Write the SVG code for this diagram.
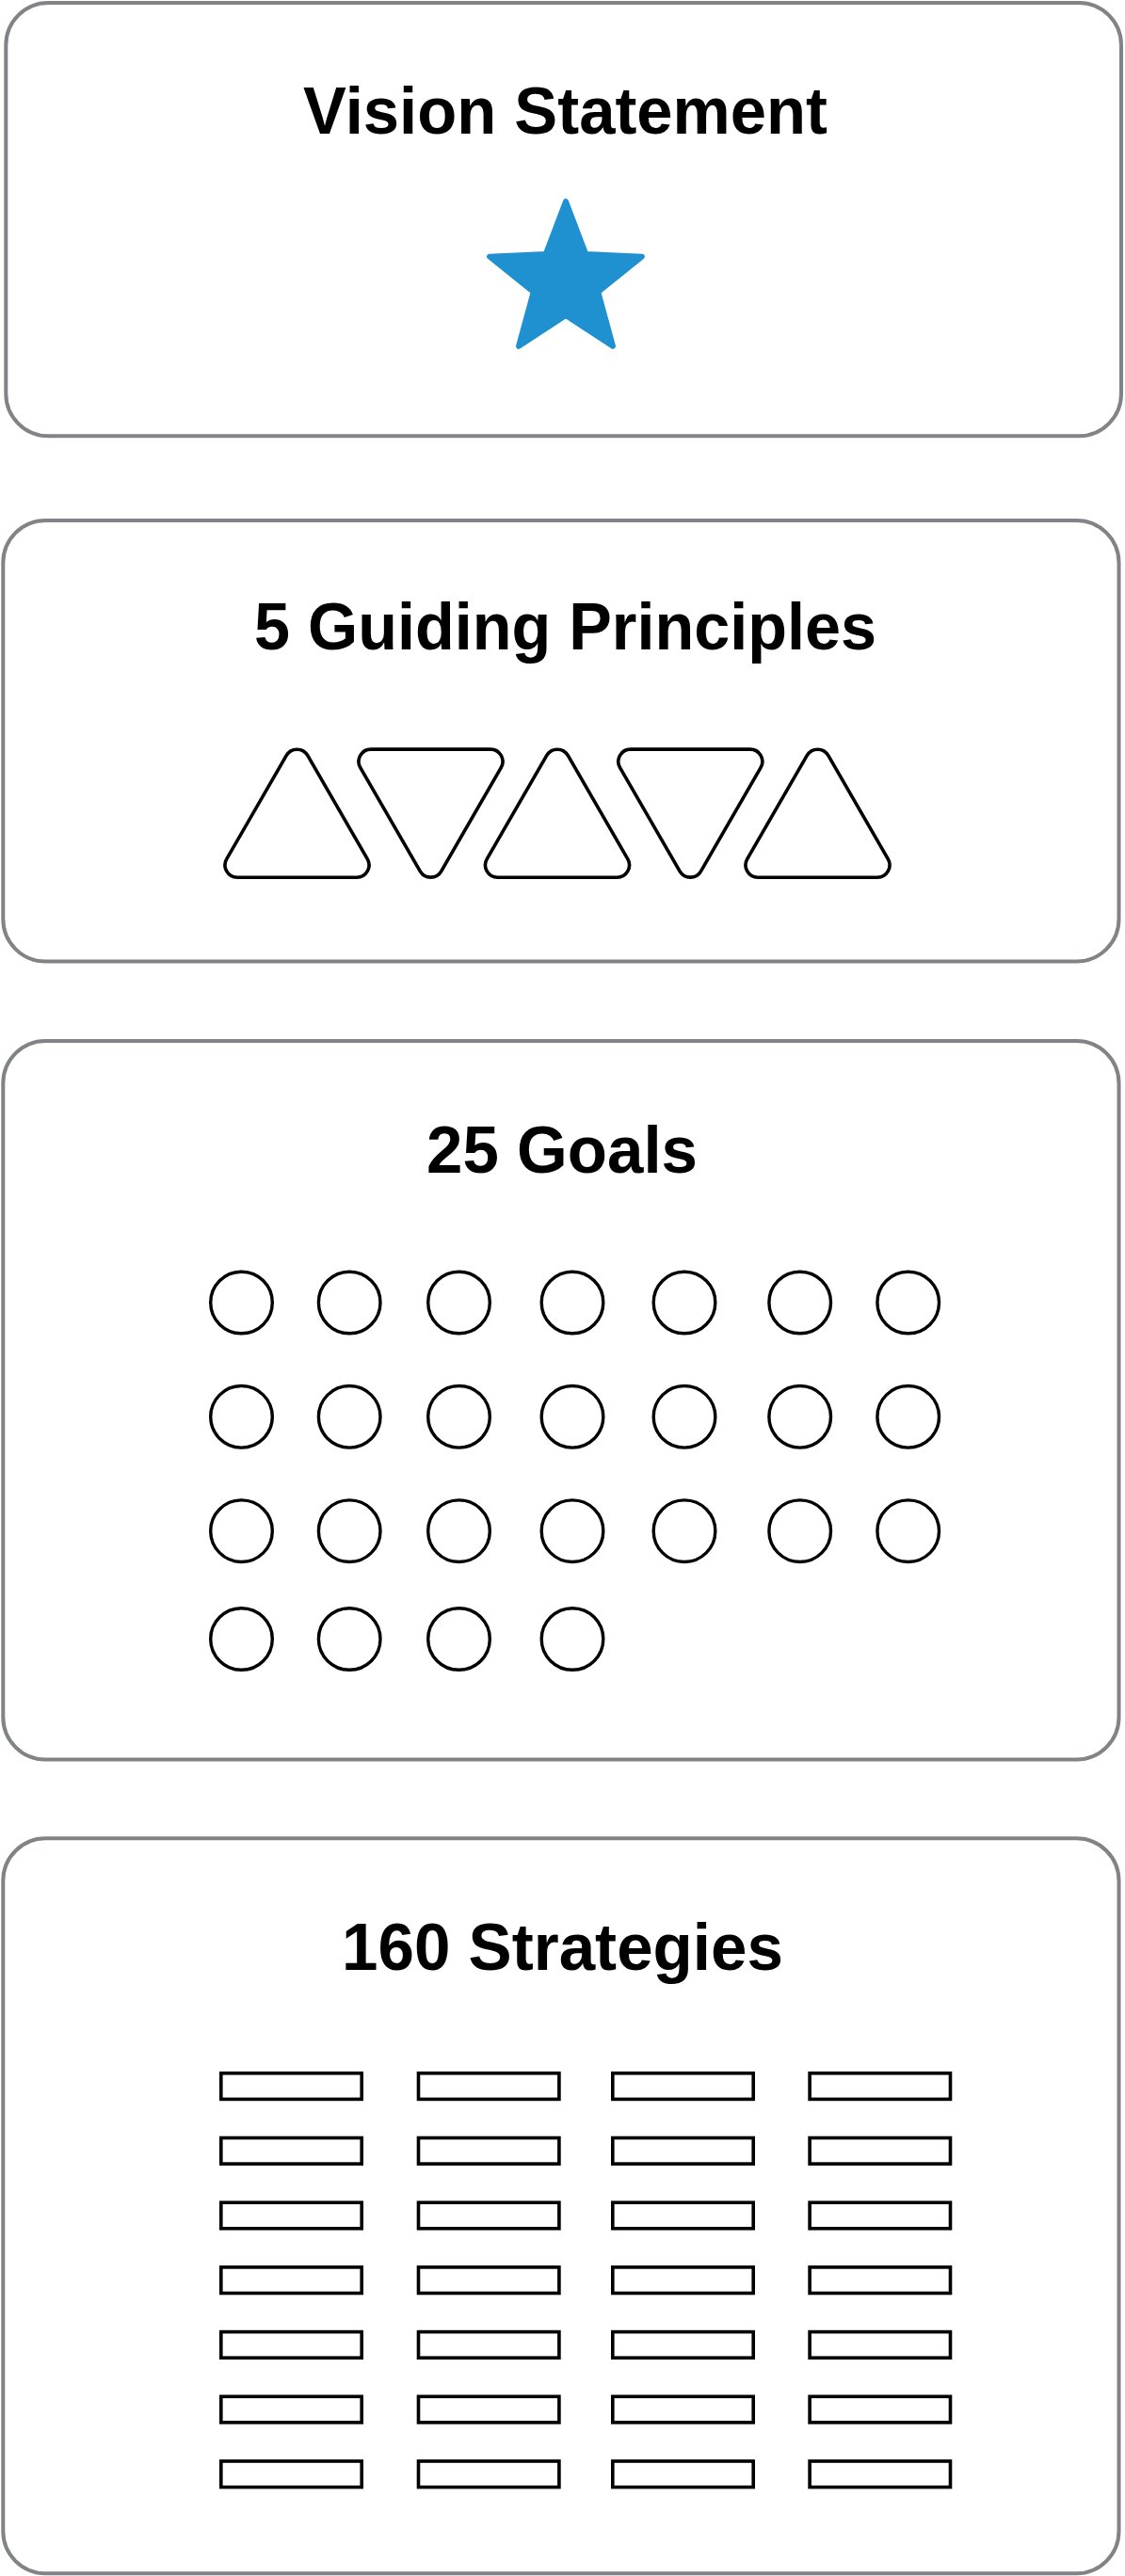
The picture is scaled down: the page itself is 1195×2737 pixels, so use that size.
<svg xmlns="http://www.w3.org/2000/svg" xmlns:xlink="http://www.w3.org/1999/xlink" width="1195" height="2737" viewBox="0 0 1195 2737">
<style>
.box{fill:#ffffff;stroke:#828387;stroke-width:4}
.title{font-family:"Liberation Sans",Arial,sans-serif;font-weight:700;font-size:71px;fill:#000000}
.icon{fill:none;stroke:#000000;stroke-width:3.6}
.goal{fill:none;stroke:#000000;stroke-width:3.4}
</style>
<defs>
<path id="tri" d="M 11.26 19.5 L 74.74 129.46 A 13 13 0 0 1 63.48 149 L -63.48 149 A 13 13 0 0 1 -74.74 129.46 L -11.26 19.5 A 13 13 0 0 1 11.26 19.5 Z"/>
<circle id="goal" r="32.8" cx="0" cy="0"/>
<rect id="strat" x="0" y="0" width="149.4" height="27.6"/>
</defs>
<rect width="1195" height="2737" fill="#ffffff"/>

<g id="vision">
<rect class="box" x="6.3" y="3" width="1184.7" height="460.3" rx="45" ry="45"/>
<text class="title" x="322" y="142" textLength="557" lengthAdjust="spacingAndGlyphs">Vision Statement</text>
<polygon points="601,214 622.16,269.88 681.84,272.73 635.24,310.12 650.96,367.77 601,335 551.04,367.77 566.76,310.12 520.16,272.73 579.84,269.88" fill="#1f91d0" stroke="#1f91d0" stroke-width="6" stroke-linejoin="round"/>
</g>

<g id="principles">
<rect class="box" x="3.3" y="553" width="1185.2" height="468.5" rx="45" ry="45"/>
<text class="title" x="270" y="690" textLength="661" lengthAdjust="spacingAndGlyphs">5 Guiding Principles</text>
<use xlink:href="#tri" class="icon" transform="translate(315.5,783.2)"/>
<use xlink:href="#tri" class="icon" transform="translate(457.5,945.1) scale(1,-1)"/>
<use xlink:href="#tri" class="icon" transform="translate(592,783.2)"/>
<use xlink:href="#tri" class="icon" transform="translate(733.3,945.1) scale(1,-1)"/>
<use xlink:href="#tri" class="icon" transform="translate(868.5,783.2)"/>
</g>

<g id="goals">
<rect class="box" x="3.3" y="1106" width="1185.2" height="763.6" rx="45" ry="45"/>
<text class="title" x="453" y="1246" textLength="288" lengthAdjust="spacingAndGlyphs">25 Goals</text>
<g class="goal">
<use xlink:href="#goal" x="256.5" y="1384"/><use xlink:href="#goal" x="371.2" y="1384"/><use xlink:href="#goal" x="487.5" y="1384"/><use xlink:href="#goal" x="608" y="1384"/><use xlink:href="#goal" x="727" y="1384"/><use xlink:href="#goal" x="849.7" y="1384"/><use xlink:href="#goal" x="964.7" y="1384"/>
<use xlink:href="#goal" x="256.5" y="1505.3"/><use xlink:href="#goal" x="371.2" y="1505.3"/><use xlink:href="#goal" x="487.5" y="1505.3"/><use xlink:href="#goal" x="608" y="1505.3"/><use xlink:href="#goal" x="727" y="1505.3"/><use xlink:href="#goal" x="849.7" y="1505.3"/><use xlink:href="#goal" x="964.7" y="1505.3"/>
<use xlink:href="#goal" x="256.5" y="1626.7"/><use xlink:href="#goal" x="371.2" y="1626.7"/><use xlink:href="#goal" x="487.5" y="1626.7"/><use xlink:href="#goal" x="608" y="1626.7"/><use xlink:href="#goal" x="727" y="1626.7"/><use xlink:href="#goal" x="849.7" y="1626.7"/><use xlink:href="#goal" x="964.7" y="1626.7"/>
<use xlink:href="#goal" x="256.5" y="1741.5"/><use xlink:href="#goal" x="371.2" y="1741.5"/><use xlink:href="#goal" x="487.5" y="1741.5"/><use xlink:href="#goal" x="608" y="1741.5"/>
</g>
</g>

<g id="strategies">
<rect class="box" x="3.3" y="1953.3" width="1185.2" height="781" rx="45" ry="45"/>
<text class="title" x="363" y="2092.5" textLength="469" lengthAdjust="spacingAndGlyphs">160 Strategies</text>
<g class="icon">
<use xlink:href="#strat" x="234.8" y="2202.8"/><use xlink:href="#strat" x="444.5" y="2202.8"/><use xlink:href="#strat" x="650.8" y="2202.8"/><use xlink:href="#strat" x="860.1" y="2202.8"/>
<use xlink:href="#strat" x="234.8" y="2271.5"/><use xlink:href="#strat" x="444.5" y="2271.5"/><use xlink:href="#strat" x="650.8" y="2271.5"/><use xlink:href="#strat" x="860.1" y="2271.5"/>
<use xlink:href="#strat" x="234.8" y="2340.2"/><use xlink:href="#strat" x="444.5" y="2340.2"/><use xlink:href="#strat" x="650.8" y="2340.2"/><use xlink:href="#strat" x="860.1" y="2340.2"/>
<use xlink:href="#strat" x="234.8" y="2408.9"/><use xlink:href="#strat" x="444.5" y="2408.9"/><use xlink:href="#strat" x="650.8" y="2408.9"/><use xlink:href="#strat" x="860.1" y="2408.9"/>
<use xlink:href="#strat" x="234.8" y="2477.6"/><use xlink:href="#strat" x="444.5" y="2477.6"/><use xlink:href="#strat" x="650.8" y="2477.6"/><use xlink:href="#strat" x="860.1" y="2477.6"/>
<use xlink:href="#strat" x="234.8" y="2546.3"/><use xlink:href="#strat" x="444.5" y="2546.3"/><use xlink:href="#strat" x="650.8" y="2546.3"/><use xlink:href="#strat" x="860.1" y="2546.3"/>
<use xlink:href="#strat" x="234.8" y="2615"/><use xlink:href="#strat" x="444.5" y="2615"/><use xlink:href="#strat" x="650.8" y="2615"/><use xlink:href="#strat" x="860.1" y="2615"/>
</g>
</g>
</svg>
